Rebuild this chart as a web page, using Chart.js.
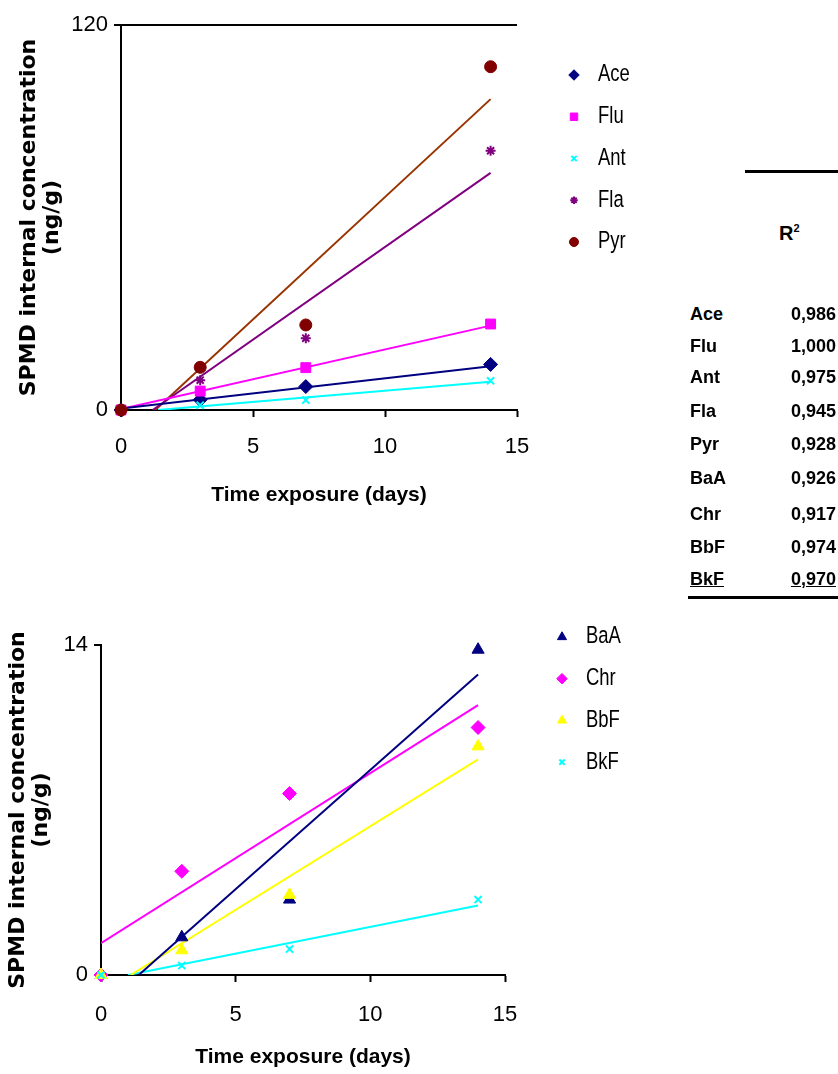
<!DOCTYPE html>
<html>

<head>
    <title>SPMD internal concentration</title>
    <style>
        body { margin: 0; background: #fff; width: 838px; height: 1074px; position: relative; overflow: hidden; }
        canvas { position: absolute; left: 0; }
        #topChart { top: 0; }
        #bottomChart { top: 590px; }
        .tbl { position: absolute; font-family: 'Liberation Sans', Arial, sans-serif; font-weight: bold; font-size: 18px; color: #000; }
        .rule { position: absolute; height: 3px; background: #000; }
    </style>
</head>

<body>
    <canvas id="topChart" width="690" height="540"></canvas>
    <canvas id="bottomChart" width="690" height="484"></canvas>
    <div id="r2"></div>
    <script src="https://cdn.jsdelivr.net/npm/chart.js"></script>
    <script type="text/javascript">
        const days = [0, 3, 7, 14];

        // upper plot, ng/g
        const ace = [0, 3.2, 7.3, 14.2];
        const flu = [0, 5.9, 13.2, 26.8];
        const ant = [0, 1.5, 3.1, 9.1];
        const fla = [0, 9.3, 22.4, 80.8];
        const pyr = [0, 13.3, 26.5, 107];

        // lower plot, ng/g
        const baa = [0, 1.6, 3.2, 13.8];
        const chr = [0, 4.4, 7.7, 10.5];
        const bbf = [0, 1.05, 3.4, 9.7];
        const bkf = [0, 0.4, 1.1, 3.2];

        // trend lines: [day, value] at both ends
        const aceFit = [[0, 0.5], [14, 13.6]];
        const fluFit = [[0, 0.3], [14, 26.3]];
        const antFit = [[1.4, 0], [14, 8.8]];
        const flaFit = [[1.2, 0], [14, 73.9]];
        const pyrFit = [[1.3, 0], [14, 96.9]];
        const baaFit = [[1.4, 0], [14, 12.75]];
        const chrFit = [[0, 1.35], [14, 11.45]];
        const bbfFit = [[1.1, 0], [14, 9.15]];
        const bkfFit = [[1.0, 0], [14, 2.95]];

        const xTicks = [0, 5, 10, 15];
        const r2Names = ['Ace', 'Flu', 'Ant', 'Fla', 'Pyr', 'BaA', 'Chr', 'BbF', 'BkF'];
        const r2Values = [0.986, 1.000, 0.975, 0.945, 0.928, 0.926, 0.917, 0.974, 0.970];

        const sans = "'Liberation Sans', Arial, sans-serif";

        function pts(ys) {
            return days.map((d, i) => ({ x: d, y: ys[i] }));
        }

        // later series sit on top, like the spreadsheet original
        function marks(label, ys, color, style, r, idx) {
            const cross = style === 'crossRot' || style === 'star';
            return {
                label: label, data: pts(ys), showLine: false, clip: false, order: -idx,
                pointStyle: style, pointRadius: r, pointHoverRadius: r,
                backgroundColor: color, borderColor: color,
                pointBorderWidth: cross ? 2 : 1, inLegend: true
            };
        }

        function fit(ends, color) {
            return {
                data: ends.map(p => ({ x: p[0], y: p[1] })), showLine: true, pointRadius: 0,
                borderColor: color, borderWidth: 2, order: 1, inLegend: false
            };
        }

        // draws the small marker + name list to the right of each plot
        const sideLegend = {
            id: 'sideLegend',
            afterDraw(chart, args, opts) {
                const ctx = chart.ctx;
                let y = opts.top;
                ctx.save();
                ctx.font = '21px ' + sans;
                ctx.textBaseline = 'middle';
                chart.data.datasets.filter(ds => ds.inLegend).forEach(ds => {
                    ctx.fillStyle = ds.backgroundColor;
                    ctx.strokeStyle = ds.borderColor;
                    ctx.lineWidth = ds.pointBorderWidth;
                    Chart.helpers.drawPoint(ctx, {
                        pointStyle: ds.pointStyle, radius: ds.pointRadius * 0.75,
                        rotation: 0, borderWidth: ds.pointBorderWidth
                    }, opts.x, y);
                    ctx.save();
                    ctx.translate(opts.x + 24, y);
                    ctx.scale(0.88, 1.12);
                    ctx.fillStyle = '#000';
                    ctx.fillText(ds.label, 0, 0);
                    ctx.restore();
                    y += opts.step;
                });
                ctx.restore();
            }
        };

        function makeOptions(yMax, yWidth, xHeight, offs, topLine, legend, pad) {
            return {
                responsive: false,
                animation: false,
                layout: { padding: pad },
                plugins: { legend: { display: false }, tooltip: { enabled: false }, sideLegend: legend },
                scales: {
                    x: {
                        type: 'linear', min: 0, max: 15,
                        afterBuildTicks: s => { s.ticks = xTicks.map(v => ({ value: v })); },
                        afterFit: s => { s.height = xHeight; },
                        ticks: { color: '#000', font: { family: sans, size: 22 }, padding: offs.tick },
                        grid: { drawOnChartArea: false, tickColor: '#000', tickLength: 7, tickWidth: 2 },
                        border: { color: '#000', width: 2 },
                        title: {
                            display: true, text: 'Time exposure (days)', color: '#000',
                            font: { family: sans, size: 21, weight: 'bold' }, padding: { bottom: offs.x }
                        }
                    },
                    y: {
                        min: 0, max: yMax,
                        afterBuildTicks: s => { s.ticks = [{ value: 0 }, { value: yMax }]; },
                        afterFit: s => { s.width = yWidth; },
                        ticks: { color: '#000', font: { family: sans, size: 22 }, padding: 6 },
                        grid: {
                            color: c => (topLine && c.tick && c.tick.value === yMax) ? '#000' : 'rgba(0,0,0,0)',
                            lineWidth: 2, tickColor: '#000', tickLength: 7, tickWidth: 2
                        },
                        border: { color: '#000', width: 2 },
                        title: {
                            display: true, text: ['SPMD internal concentration', '(ng/g)'], color: '#000',
                            font: { family: 'DejaVu Sans', size: 22, weight: 'bold', lineHeight: 1.05 },
                            padding: { top: offs.y }
                        }
                    }
                }
            };
        }

        new Chart(document.getElementById('topChart'), {
            type: 'scatter',
            data: {
                datasets: [
                    marks('Ace', ace, '#000080', 'rectRot', 7, 0),
                    marks('Flu', flu, '#ff00ff', 'rect', 7, 1),
                    marks('Ant', ant, '#00ffff', 'crossRot', 5, 2),
                    marks('Fla', fla, '#800080', 'star', 5, 3),
                    marks('Pyr', pyr, '#800000', 'circle', 6, 4),
                    fit(aceFit, '#000080'),
                    fit(fluFit, '#ff00ff'),
                    fit(antFit, '#00ffff'),
                    fit(flaFit, '#800080'),
                    fit(pyrFit, '#993300')
                ]
            },
            options: makeOptions(120, 121, 130, { x: 32, y: 18, tick: 17 }, true,
                { x: 574, top: 75, step: 41.75 }, { top: 25, right: 173, bottom: 0, left: 0 }),
            plugins: [sideLegend]
        });

        new Chart(document.getElementById('bottomChart'), {
            type: 'scatter',
            data: {
                datasets: [
                    marks('BaA', baa, '#000080', 'triangle', 7, 0),
                    marks('Chr', chr, '#ff00ff', 'rectRot', 7, 1),
                    marks('BbF', bbf, '#ffff00', 'triangle', 7, 2),
                    marks('BkF', bkf, '#00ffff', 'crossRot', 5, 3),
                    fit(baaFit, '#000080'),
                    fit(chrFit, '#ff00ff'),
                    fit(bbfFit, '#ffff00'),
                    fit(bkfFit, '#00ffff')
                ]
            },
            options: makeOptions(14, 101, 99, { x: 4, y: 7, tick: 20 }, false,
                { x: 562, top: 47, step: 41.7 }, { top: 55, right: 185, bottom: 0, left: 0 }),
            plugins: [sideLegend]
        });

        // R² table
        const box = document.getElementById('r2');
        const rowY = [315, 347, 378, 412, 445, 479, 515, 548, 580];
        let html = '<div class="rule" style="left:745px;top:170px;width:93px"></div>';
        html += '<div class="tbl" style="left:779px;top:222px;font-size:20px">R<sup style="font-size:11px">2</sup></div>';
        r2Names.forEach((n, i) => {
            const last = i === r2Names.length - 1 ? 'text-decoration:underline;' : '';
            html += '<div class="tbl" style="left:690px;top:' + (rowY[i] - 11) + 'px;' + last + '">' + n + '</div>';
            html += '<div class="tbl" style="right:2px;top:' + (rowY[i] - 11) + 'px;' + last + '">' +
                r2Values[i].toFixed(3).replace('.', ',') + '</div>';
        });
        html += '<div class="rule" style="left:688px;top:596px;width:150px"></div>';
        box.innerHTML = html;
    </script>
</body>

</html>
